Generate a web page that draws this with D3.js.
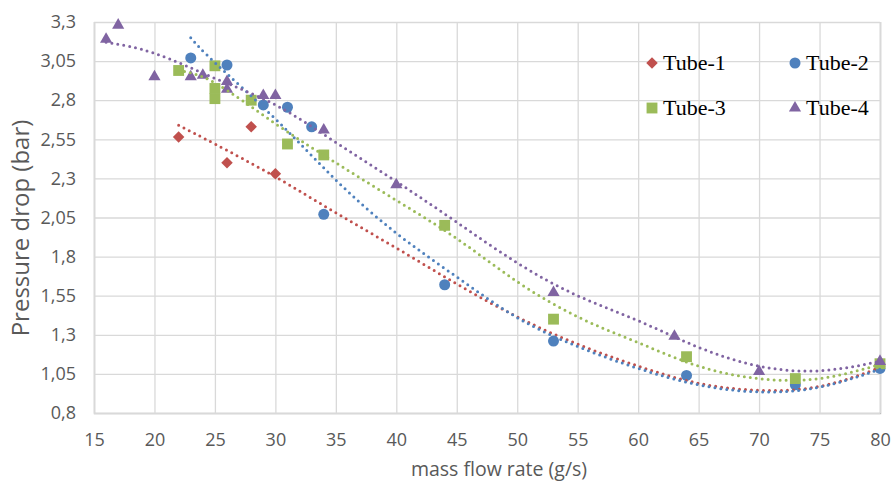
<!DOCTYPE html>
<html>
<head>
<meta charset="utf-8">
<script src="https://cdn.jsdelivr.net/npm/d3@7"></script>
<style>
    body { margin: 0; background: #fff; }
    svg { display: block; }
</style>
</head>
<body>
<div id="chart"></div>
<script>
const width = 895;
const height = 481;

const tube1X = [22, 26, 28, 30, 80];
const tube1Y = [2.565, 2.40, 2.63, 2.33, 1.10];
const tube2X = [23, 26, 29, 31, 33, 34, 44, 53, 64, 73, 80];
const tube2Y = [3.07, 3.025, 2.77, 2.755, 2.63, 2.07, 1.62, 1.26, 1.04, 0.98, 1.085];
const tube3X = [22, 25, 25, 25, 28, 31, 34, 44, 53, 64, 73, 80];
const tube3Y = [2.99, 3.02, 2.875, 2.81, 2.80, 2.52, 2.45, 2.0, 1.40, 1.16, 1.02, 1.115];
const tube4X = [16, 17, 20, 23, 24, 26, 26, 29, 30, 34, 40, 53, 63, 70, 80];
const tube4Y = [3.19, 3.28, 2.95, 2.95, 2.96, 2.92, 2.87, 2.83, 2.83, 2.61, 2.26, 1.57, 1.29, 1.065, 1.13];

// dotted trend lines
const trend1X = [22, 25, 30, 35, 40, 45, 50, 55, 60, 65, 70, 75, 80];
const trend1Y = [2.64, 2.52, 2.31, 2.08, 1.855, 1.625, 1.415, 1.24, 1.10, 0.99, 0.945, 0.97, 1.09];
const trend2X = [23, 25, 30, 35, 40, 45, 50, 55, 60, 65, 70, 75, 80];
const trend2Y = [3.20, 3.04, 2.68, 2.29, 1.95, 1.67, 1.41, 1.225, 1.085, 0.98, 0.935, 0.965, 1.08];
const trend3X = [22, 25, 30, 35, 40, 45, 50, 55, 60, 65, 70, 75, 80];
const trend3Y = [2.99, 2.91, 2.65, 2.40, 2.16, 1.915, 1.64, 1.415, 1.25, 1.10, 1.02, 1.02, 1.11];
const trend4X = [16, 20, 25, 30, 35, 40, 45, 50, 55, 60, 65, 70, 75, 80];
const trend4Y = [3.17, 3.10, 2.94, 2.77, 2.53, 2.28, 2.02, 1.76, 1.55, 1.39, 1.22, 1.10, 1.07, 1.13];

const xTicks = [15, 20, 25, 30, 35, 40, 45, 50, 55, 60, 65, 70, 75, 80];
const yTicks = [0.8, 1.05, 1.3, 1.55, 1.8, 2.05, 2.3, 2.55, 2.8, 3.05, 3.3];
const yTickLabels = ["0,8", "1,05", "1,3", "1,55", "1,8", "2,05", "2,3", "2,55", "2,8", "3,05", "3,3"];

const seriesNames = ["Tube-1", "Tube-2", "Tube-3", "Tube-4"];
const colors = ["#C0504D", "#4F81BD", "#9BBB59", "#8064A2"];

const margin = { left: 94, right: 15, top: 22, bottom: 68 };
const grid = "#d9d9d9";
const axisFont = "'Open Sans', sans-serif";

const svg = d3.select("#chart").append("svg")
    .attr("width", width)
    .attr("height", height)
    .style("background", "#fff");

const x = d3.scaleLinear().domain([15, 80]).range([margin.left, width - margin.right]);
const y = d3.scaleLinear().domain([0.8, 3.3]).range([height - margin.bottom, margin.top]);

//  GRID + AXES  ////////////////////////////////////////
const xAxis = svg.append("g")
    .attr("transform", `translate(0,${height - margin.bottom})`)
    .call(d3.axisBottom(x).tickValues(xTicks).tickSize(-(y.range()[0] - y.range()[1])).tickPadding(20));
xAxis.select(".domain").attr("stroke", "#bfbfbf").attr("stroke-width", 1.5);
xAxis.selectAll(".tick line").attr("stroke", grid).attr("stroke-width", 1.3);
xAxis.selectAll(".tick text")
    .attr("fill", "#595959")
    .style("font-family", axisFont)
    .style("font-size", "18px");

const yAxis = svg.append("g")
    .attr("transform", `translate(${margin.left},0)`)
    .call(d3.axisLeft(y).tickValues(yTicks)
        .tickFormat((d, i) => yTickLabels[i])
        .tickSize(-(x.range()[1] - x.range()[0])).tickPadding(18));
yAxis.select(".domain").remove();
yAxis.selectAll(".tick line").attr("stroke", grid).attr("stroke-width", 1.3);
yAxis.selectAll(".tick text")
    .attr("fill", "#595959")
    .style("font-family", axisFont)
    .style("font-size", "18px");

svg.append("text")
    .attr("x", 499)
    .attr("y", 476)
    .attr("text-anchor", "middle")
    .attr("fill", "#595959")
    .style("font-family", axisFont)
    .style("font-size", "19.5px")
    .text("mass flow rate (g/s)");

svg.append("text")
    .attr("transform", "translate(29,228) rotate(-90)")
    .attr("text-anchor", "middle")
    .attr("fill", "#595959")
    .style("font-family", axisFont)
    .style("font-size", "24px")
    .text("Pressure drop (bar)");

//  MARKERS  ////////////////////////////////////////////
const symbolFor = [
    d3.symbol().type(d3.symbolSquare).size(66),   // turned 45deg -> diamond
    d3.symbol().type(d3.symbolCircle).size(95),
    d3.symbol().type(d3.symbolSquare).size(118),
    d3.symbol().type(d3.symbolTriangle).size(64)
];
const rotFor = [45, 0, 0, 0];

const points = [
    d3.zip(tube1X, tube1Y),
    d3.zip(tube2X, tube2Y),
    d3.zip(tube3X, tube3Y),
    d3.zip(tube4X, tube4Y)
];
const trends = [
    d3.zip(trend1X, trend1Y),
    d3.zip(trend2X, trend2Y),
    d3.zip(trend3X, trend3Y),
    d3.zip(trend4X, trend4Y)
];

points.forEach((pts, i) => {
    svg.append("g").selectAll("path")
        .data(pts)
        .join("path")
        .attr("d", symbolFor[i])
        .attr("transform", d => `translate(${x(d[0])},${y(d[1])}) rotate(${rotFor[i]})`)
        .attr("fill", colors[i]);
});

//  TREND LINES  ////////////////////////////////////////
const lineHelper = d3.line().x(d => x(d[0])).y(d => y(d[1])).curve(d3.curveNatural);

trends.forEach((t, i) => {
    svg.append("path")
        .datum(t)
        .attr("d", lineHelper)
        .attr("fill", "none")
        .attr("stroke", colors[i])
        .attr("stroke-width", 3)
        .attr("stroke-linecap", "round")
        .attr("stroke-dasharray", "0 6");
});

//  LEGEND  /////////////////////////////////////////////
const legendPos = [[652, 63], [795, 63], [652, 108], [795, 108]];
seriesNames.forEach((name, i) => {
    const [lx, ly] = legendPos[i];
    svg.append("path")
        .attr("d", symbolFor[i])
        .attr("transform", `translate(${lx},${ly}) rotate(${rotFor[i]})`)
        .attr("fill", colors[i]);
    svg.append("text")
        .attr("x", lx + 11)
        .attr("y", ly + 7)
        .style("font-family", "'Liberation Serif', 'Times New Roman', serif")
        .style("font-size", "22px")
        .attr("fill", "#000")
        .text(name);
});
</script>
</body>
</html>
